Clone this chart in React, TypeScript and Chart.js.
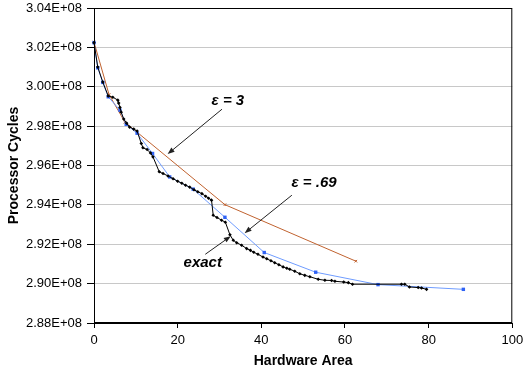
import React, { useEffect, useRef } from "react";
import { Chart, registerables } from "chart.js";

Chart.register(...registerables);

// exact solution
const exactX = [0, 0.9, 2.1, 3.4, 4.5, 5.7, 5.9, 6.2, 6.5, 7.1, 7.8, 8.5, 9.5, 10.3, 11.3, 11.7, 12.7, 13.5, 14.1, 15.6, 16.5, 17.7, 18.9, 20.0, 21.0, 21.9, 22.9, 23.9, 24.8, 25.8, 26.7, 27.4, 28.1, 28.5, 29.4, 30.5, 31.4, 32.5, 33.3, 34.1, 35.3, 36.5, 37.4, 38.2, 39.2, 40.4, 41.3, 42.3, 43.2, 44.2, 45.2, 46.1, 46.8, 48.0, 49.2, 50.4, 51.6, 53.6, 55.2, 56.8, 57.6, 59.7, 60.8, 61.8, 73.5, 74.3, 75.4, 77.5, 78.3, 79.5];
const exactY = [3.0224e8, 3.01e8, 3.0024e8, 2.9953e8, 2.9947e8, 2.9932e8, 2.9917e8, 2.9895e8, 2.9871e8, 2.9836e8, 2.9815e8, 2.9795e8, 2.9785e8, 2.9775e8, 2.9712e8, 2.969e8, 2.9681e8, 2.9664e8, 2.9644e8, 2.9568e8, 2.9559e8, 2.9547e8, 2.9533e8, 2.952e8, 2.951e8, 2.95e8, 2.949e8, 2.9477e8, 2.9467e8, 2.9457e8, 2.9444e8, 2.9434e8, 2.9424e8, 2.9347e8, 2.9336e8, 2.9322e8, 2.9312e8, 2.9248e8, 2.922e8, 2.9208e8, 2.9195e8, 2.9178e8, 2.9169e8, 2.9159e8, 2.9149e8, 2.9135e8, 2.9126e8, 2.9116e8, 2.9106e8, 2.9096e8, 2.9085e8, 2.9078e8, 2.9073e8, 2.9063e8, 2.905e8, 2.9042e8, 2.9035e8, 2.9022e8, 2.9017e8, 2.9016e8, 2.9012e8, 2.9008e8, 2.9005e8, 2.8997e8, 2.8997e8, 2.8997e8, 2.8983e8, 2.898e8, 2.8978e8, 2.8971e8];

// epsilon = .69
const eps069X = [0, 0.9, 2.1, 3.4, 6.2, 7.7, 10.3, 14.0, 18.1, 23.7, 31.3, 40.7, 53.0, 67.9, 88.3];
const eps069Y = [3.0224e8, 3.0096e8, 3.0022e8, 2.9949e8, 2.9881e8, 2.9809e8, 2.9764e8, 2.9661e8, 2.9542e8, 2.948e8, 2.9337e8, 2.9158e8, 2.9058e8, 2.8995e8, 2.8971e8];

// epsilon = 3
const eps3X = [0, 3.6, 7.4, 31.3, 62.6];
const eps3Y = [3.0227e8, 2.996e8, 2.982e8, 2.9401e8, 2.9114e8];

// axis
const xTicks = [0, 20, 40, 60, 80, 100];
const yMin = 2.88e8;
const yMax = 3.04e8;
const yStep = 0.02e8;

// annotation texts and anchors (data coordinates)
const labels = [
  { text: "\u03b5 = 3", x: 32.0, y: 2.9927e8 },
  { text: "\u03b5 = .69", x: 52.6, y: 2.951e8 },
  { text: "exact", x: 26.0, y: 2.9108e8 },
];
const arrows = [
  { x1: 30.6, y1: 2.9886e8, x2: 17.6, y2: 2.9658e8 },
  { x1: 47.3, y1: 2.9449e8, x2: 36.0, y2: 2.9256e8 },
  { x1: 26.6, y1: 2.9149e8, x2: 32.7, y2: 2.9241e8 },
];

const toPts = (xs: number[], ys: number[]) => xs.map((x, i) => ({ x, y: ys[i] }));

const FONT = "'Liberation Sans', Arial, sans-serif";

const annotPlugin = {
  id: "annot",
  afterDatasetsDraw(chart: any) {
    const { ctx, chartArea, scales } = chart;
    const sx = scales.x, sy = scales.y;
    ctx.save();
    // plot border
    ctx.strokeStyle = "#000";
    ctx.lineWidth = 1;
    ctx.strokeRect(chartArea.left + 0.5, chartArea.top + 0.5, chartArea.right - chartArea.left - 1, chartArea.bottom - chartArea.top - 1);
    // arrows
    arrows.forEach((a) => {
      const x1 = sx.getPixelForValue(a.x1), y1 = sy.getPixelForValue(a.y1);
      const x2 = sx.getPixelForValue(a.x2), y2 = sy.getPixelForValue(a.y2);
      const ang = Math.atan2(y2 - y1, x2 - x1);
      const L = 7, W = 2.6;
      const bx = x2 - L * Math.cos(ang), by = y2 - L * Math.sin(ang);
      ctx.strokeStyle = "#222";
      ctx.lineWidth = 1;
      ctx.beginPath();
      ctx.moveTo(x1, y1);
      ctx.lineTo(bx, by);
      ctx.stroke();
      ctx.fillStyle = "#222";
      ctx.beginPath();
      ctx.moveTo(x2, y2);
      ctx.lineTo(bx + W * Math.sin(ang), by - W * Math.cos(ang));
      ctx.lineTo(bx - W * Math.sin(ang), by + W * Math.cos(ang));
      ctx.closePath();
      ctx.fill();
    });
    // labels
    ctx.fillStyle = "#000";
    ctx.font = `italic bold 15px ${FONT}`;
    ctx.textAlign = "center";
    ctx.textBaseline = "middle";
    labels.forEach((l) => {
      ctx.fillText(l.text, sx.getPixelForValue(l.x), sy.getPixelForValue(l.y));
    });
    ctx.restore();
  },
};

export default function App() {
  const ref = useRef<HTMLCanvasElement>(null);
  useEffect(() => {
    if (!ref.current) return;
    const chart = new Chart(ref.current, {
      type: "scatter",
      data: {
        datasets: [
          {
            label: "exact",
            data: toPts(exactX, exactY),
            showLine: true,
            borderColor: "#000",
            borderWidth: 1,
            pointStyle: "rectRot",
            pointRadius: 1.8,
            pointBackgroundColor: "#000",
            pointBorderColor: "#000",
            pointBorderWidth: 0,
            order: 1,
            clip: false,
          },
          {
            label: "e=.69",
            data: toPts(eps069X, eps069Y),
            showLine: true,
            borderColor: "#6f9cff",
            borderWidth: 1,
            pointStyle: "rect",
            pointRadius: 2.4,
            pointBackgroundColor: "#2f62f5",
            pointBorderColor: "#2f62f5",
            pointBorderWidth: 0,
            order: 2,
            clip: false,
          },
          {
            label: "e=3",
            data: toPts(eps3X, eps3Y),
            showLine: true,
            borderColor: "#c0622f",
            borderWidth: 1,
            pointStyle: "crossRot",
            pointRadius: 1.8,
            pointBorderColor: "#c0622f",
            pointBorderWidth: 1,
            order: 3,
            clip: false,
          },
        ],
      },
      options: {
        animation: false,
        responsive: false,
        devicePixelRatio: 1,
        layout: { padding: { top: 8, right: 10.7, left: 0, bottom: 0 } },
        plugins: { legend: { display: false }, tooltip: { enabled: false } },
        scales: {
          x: {
            type: "linear",
            min: 0,
            max: 100,
            afterBuildTicks: (s: any) => {
              s.ticks = xTicks.map((v) => ({ value: v }));
            },
            afterFit: (s: any) => {
              s.height = 51;
              s.paddingLeft = 0;
              s.paddingRight = 0;
            },
            ticks: {
              color: "#000",
              font: { family: FONT, size: 13 },
              padding: 5,
            },
            grid: {
              drawOnChartArea: false,
              drawTicks: true,
              tickLength: 5,
              tickColor: "#000",
            },
            border: { display: true, color: "#000", width: 1 },
            title: {
              display: true,
              text: "Hardware Area",
              color: "#000",
              font: { family: FONT, size: 14, weight: "bold" },
              padding: { top: 0, bottom: 4 },
            },
          },
          y: {
            type: "linear",
            min: yMin,
            max: yMax,
            ticks: {
              stepSize: yStep,
              color: "#000",
              font: { family: FONT, size: 13 },
              padding: 5,
              callback: (v: any) => (Number(v) / 1e8).toFixed(2) + "E+08",
            },
            afterFit: (s: any) => {
              s.width = 94;
              s.paddingTop = 0;
              s.paddingBottom = 0;
            },
            grid: {
              color: "#c8c8c8",
              tickColor: "#000",
              tickLength: 7,
            },
            border: { display: true, color: "#000", width: 1 },
            title: {
              display: true,
              text: "Processor Cycles",
              color: "#000",
              font: { family: FONT, size: 14, weight: "bold" },
              padding: { top: 6, bottom: 0 },
            },
          },
        },
      },
      plugins: [annotPlugin],
    } as any);
    return () => chart.destroy();
  }, []);
  return (
    <div style={{ position: "absolute", left: 0, top: 0, width: 523, height: 374, background: "#fff" }}>
      <canvas ref={ref} width={523} height={374} style={{ display: "block" }} />
    </div>
  );
}
